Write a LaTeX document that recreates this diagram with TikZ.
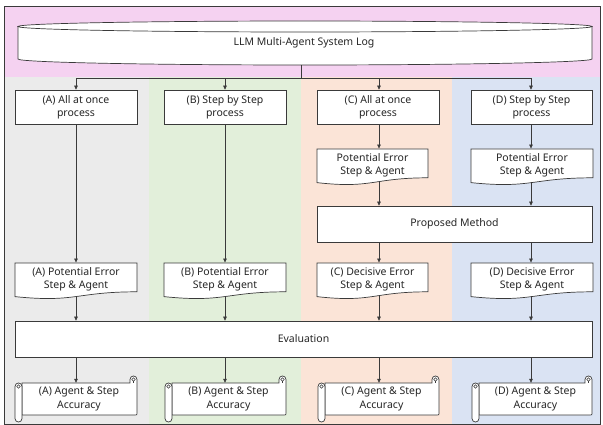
\documentclass[tikz,border=0pt]{standalone}
\usepackage{fontspec}
\setmainfont{Noto Sans}
\usetikzlibrary{arrows.meta}

\definecolor{linec}{HTML}{3A3A3A}
\definecolor{txt}{HTML}{262626}
\definecolor{pinkbg}{HTML}{F5D2F1}
\definecolor{greybg}{HTML}{EBEBEB}
\definecolor{greenbg}{HTML}{E2EFDA}
\definecolor{orangebg}{HTML}{FBE4D7}
\definecolor{bluebg}{HTML}{DAE3F3}

% document shape with a wavy lower edge: left, top, right, height
\newcommand\docpath[4]{%
  \path[shp] (#1,#2) -- (#3,#2) -- (#3,{#2+0.80*#4})
    .. controls ({(#1+#3)/2},{#2+0.80*#4}) and ({(#1+#3)/2},{#2+1.1075*#4}) ..
    (#1,{#2+0.934*#4}) -- cycle;}

% horizontal scroll: left, top, right, bottom
\newcommand\scrollpath[4]{%
  \path[shp] ({#1+7},{#2+7}) -- ({#3-7},{#2+7}) -- ({#3-7},{#2+3.5})
    .. controls ({#3-7},{#2-1.17}) and (#3,{#2-1.17}) .. (#3,{#2+3.5})
    -- (#3,{#4-9}) .. controls (#3,{#4-7}) .. ({#3-2},{#4-7})
    -- ({#1+7},{#4-7}) -- cycle;
  \draw[thinl] ({#3-3.5},{#2+3.5}) circle[radius=1.75];
  \draw[thinl] ({#3-3.5},{#2+5.25}) -- ({#3-3.5},{#2+7});
  \path[shp] (#1,{#2+10.5})
    .. controls (#1,{#2+5.83}) and ({#1+7},{#2+5.83}) .. ({#1+7},{#2+10.5})
    -- ({#1+7},{#4-3.5})
    .. controls ({#1+7},{#4+1.17}) and (#1,{#4+1.17}) .. (#1,{#4-3.5}) -- cycle;
  \draw[thinl] ({#1+3.5},{#2+10.5}) circle[radius=1.75];}

\begin{document}
\begin{tikzpicture}[x=1pt,y=-1pt,
  lbl/.style={font=\fontsize{10.5}{13.2}\selectfont, text=txt, align=center, inner sep=0pt},
  shp/.style={draw=linec, fill=white, line width=0.7pt},
  thinl/.style={draw=linec, line width=0.5pt},
  boxn/.style={lbl, shp, minimum height=34pt},
  arr/.style={draw=linec, line width=0.6pt, -{Triangle[length=4pt,width=3.6pt]}},
  conn/.style={draw=linec, line width=0.6pt}]

\useasboundingbox (0,0) rectangle (603,425);

% coloured bands
\fill[pinkbg]   (4,6)   rectangle (600,77);
\fill[greybg]   (4,77)  rectangle (149,424);
\fill[greenbg]  (149,77) rectangle (301,424);
\fill[orangebg] (301,77) rectangle (452,424);
\fill[bluebg]   (452,77) rectangle (600,424);
\draw[linec, line width=0.8pt] (4,6) rectangle (600,424);

% column axes
\coordinate (cA) at (76,0);
\coordinate (cB) at (225,0);
\coordinate (cC) at (379,0);
\coordinate (cD) at (531,0);

% log store (cylinder)
\path[shp] (18,26.5) -- (18,59)
  .. controls (18,62.3) and (146.6,65) .. (305,65)
  .. controls (463.4,65) and (592,62.3) .. (592,59) -- (592,26.5) -- cycle;
\path[shp] (305,26.5) ellipse [x radius=287, y radius=5.5];
\node[lbl, minimum width=574pt, minimum height=44pt] (log) at (304,43) {LLM Multi-Agent System Log};

% first row of processes
\node[boxn, minimum width=122pt] (pA) at (76,107)  {(A) All at once\\process};
\node[boxn, minimum width=122pt] (pB) at (225,107) {(B) Step by Step\\process};
\node[boxn, minimum width=122pt] (pC) at (378,107) {(C) All at once\\process};
\node[boxn, minimum width=121pt] (pD) at (531.5,107) {(D) Step by Step\\process};

% fan-out from the log
\coordinate (hub) at (301,78);
\draw[conn] (hub |- log.south) -- (hub);
\draw[arr] (hub) -| (pA.north);
\draw[arr] (hub) -| (pB.north);
\draw[arr] (hub) -| (pC.north -| cC);
\draw[arr] (hub) -| (pD.north -| cD);

% potential error documents for C and D
\docpath{317}{149}{428}{36}
\docpath{471}{149}{593}{36}
\node[lbl, minimum width=111pt, minimum height=33.5pt] (qC) at (372.5,165.5) {Potential Error\\Step \& Agent};
\node[lbl, minimum width=122pt, minimum height=33.5pt] (qD) at (532,165.5) {Potential Error\\Step \& Agent};

% proposed method
\node[lbl, shp, minimum width=275pt, minimum height=36pt] (prop) at (454.5,224) {Proposed Method};

% second row of documents
\docpath{15}{263}{137}{36}
\docpath{164}{263}{286}{36}
\docpath{317}{263}{428}{36}
\docpath{471}{263}{593}{36}
\node[lbl, minimum width=122pt, minimum height=33.5pt] (dA) at (76,279.5) {(A) Potential Error\\Step \& Agent};
\node[lbl, minimum width=122pt, minimum height=33.5pt] (dB) at (225,279.5) {(B) Potential Error\\Step \& Agent};
\node[lbl, minimum width=111pt, minimum height=33.5pt] (dC) at (372.5,279.5) {(C) Decisive Error\\Step \& Agent};
\node[lbl, minimum width=122pt, minimum height=33.5pt] (dD) at (532,279.5) {(D) Decisive Error\\Step \& Agent};

% evaluation
\node[lbl, shp, minimum width=577pt, minimum height=36pt] (eval) at (303.5,339) {Evaluation};

% accuracy scrolls
\scrollpath{15}{376}{137}{422}
\scrollpath{165}{376}{286}{422}
\scrollpath{318}{376}{439}{422}
\scrollpath{472}{376}{592}{422}
\node[lbl, minimum width=115pt, minimum height=32pt] (sA) at (79,399)  {(A) Agent \& Step\\Accuracy};
\node[lbl, minimum width=114pt, minimum height=32pt] (sB) at (228.5,399) {(B) Agent \& Step\\Accuracy};
\node[lbl, minimum width=114pt, minimum height=32pt] (sC) at (381.5,399) {(C) Agent \& Step\\Accuracy};
\node[lbl, minimum width=113pt, minimum height=32pt] (sD) at (535.5,399) {(D) Agent \& Step\\Accuracy};

% column flows
\draw[arr] (pA.south) -- (dA.north);
\draw[arr] (pB.south) -- (dB.north);
\draw[arr] (pC.south -| cC) -- (qC.north -| cC);
\draw[arr] (pD.south -| cD) -- (qD.north -| cD);
\draw[arr] (qC.south -| cC) -- (prop.north -| cC);
\draw[arr] (qD.south -| cD) -- (prop.north -| cD);
\draw[arr] (prop.south -| cC) -- (dC.north -| cC);
\draw[arr] (prop.south -| cD) -- (dD.north -| cD);
\draw[arr] (dA.south) -- (eval.north -| cA);
\draw[arr] (dB.south) -- (eval.north -| cB);
\draw[arr] (dC.south -| cC) -- (eval.north -| cC);
\draw[arr] (dD.south -| cD) -- (eval.north -| cD);
\draw[arr] (eval.south -| cA) -- (sA.north -| cA);
\draw[arr] (eval.south -| cB) -- (sB.north -| cB);
\draw[arr] (eval.south -| cC) -- (sC.north -| cC);
\draw[arr] (eval.south -| cD) -- (sD.north -| cD);
\end{tikzpicture}
\end{document}
